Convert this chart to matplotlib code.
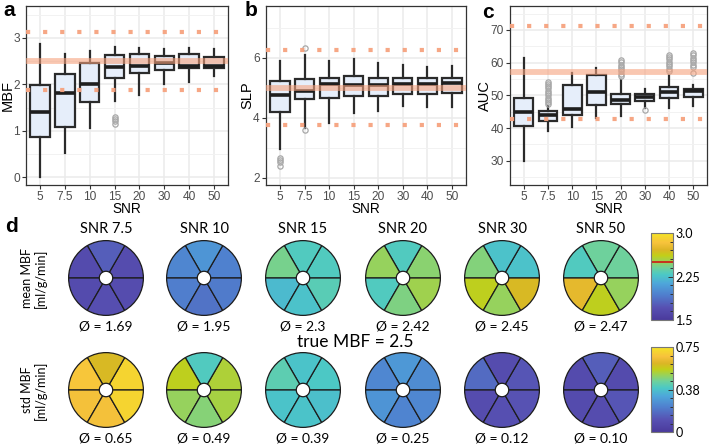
import matplotlib
matplotlib.use('Agg')
import matplotlib.pyplot as plt
import numpy as np
from matplotlib.colors import LinearSegmentedColormap, Normalize
from matplotlib.cm import ScalarMappable
from matplotlib.ticker import MultipleLocator, FixedLocator

plt.rcParams['font.family'] = ['Liberation Sans', 'DejaVu Sans']

# ---------------- data ----------------
snr_labels = ['5', '7.5', '10', '15', '20', '30', '40', '50']

# panel a: MBF
mbf_whislo = [0.00, 0.53, 1.05, 1.64, 1.77, 2.00, 2.05, 2.17]
mbf_q1 = [0.87, 1.07, 1.61, 2.13, 2.25, 2.31, 2.35, 2.35]
mbf_med = [1.41, 1.82, 2.00, 2.38, 2.40, 2.47, 2.40, 2.40]
mbf_q3 = [1.99, 2.22, 2.46, 2.63, 2.66, 2.62, 2.65, 2.60]
mbf_whishi = [2.87, 2.65, 2.73, 2.81, 2.79, 2.76, 2.79, 2.76]
mbf_fliers = [[], [], [], [1.30, 1.25, 1.20, 1.15], [], [], [], []]
mbf_true = 2.5
mbf_bounds = [1.875, 3.125]

# panel b: SLP
slp_whislo = [2.95, 3.66, 3.81, 4.15, 4.22, 4.39, 4.37, 4.37]
slp_q1 = [4.20, 4.62, 4.65, 4.71, 4.71, 4.79, 4.78, 4.81]
slp_med = [4.75, 4.90, 5.12, 5.10, 5.10, 5.12, 5.12, 5.15]
slp_q3 = [5.21, 5.29, 5.33, 5.38, 5.33, 5.33, 5.33, 5.33]
slp_whishi = [5.88, 6.10, 5.88, 5.97, 5.83, 5.76, 5.69, 5.71]
slp_fliers = [[2.65, 2.58, 2.52, 2.39], [6.33, 3.58], [], [], [], [], [], []]
slp_true = 5.0
slp_bounds = [3.75, 6.25]

# panel c: AUC
auc_whislo = [30.0, 39.2, 40.2, 43.2, 43.8, 46.1, 46.1, 46.8]
auc_q1 = [40.7, 42.3, 44.1, 46.9, 47.3, 48.4, 49.2, 49.5]
auc_med = [44.9, 44.1, 45.9, 51.0, 48.7, 49.5, 51.0, 51.2]
auc_q3 = [49.2, 45.3, 53.3, 56.1, 50.5, 50.4, 52.5, 52.0]
auc_whishi = [61.5, 46.6, 56.9, 58.5, 54.6, 52.0, 56.2, 53.3]
auc_fliers = [[],
              [54.2, 53.5, 52.8, 52.1, 51.4, 50.7, 50.0, 49.3, 48.6, 47.9, 47.2],
              [],
              [],
              [60.8, 60.1, 59.4, 58.7, 58.0, 57.3, 56.6, 55.9],
              [45.4],
              [62.4, 61.7, 61.0, 60.3, 59.6, 58.9, 58.2, 57.5],
              [62.9, 62.2, 61.5, 60.8, 60.1, 59.4, 58.7, 56.7]]
auc_true = 57.0
auc_bounds = [42.75, 71.25]

# panel d: bullseye segments, order: upper-right, top, upper-left, lower-left, bottom, lower-right
d_snr = ['7.5', '10', '15', '20', '30', '50']
mean_seg = [
    [1.67, 1.78, 1.66, 1.66, 1.69, 1.68],
    [1.95, 2.05, 1.97, 1.93, 1.88, 1.92],
    [2.30, 2.30, 2.42, 2.22, 2.25, 2.33],
    [2.47, 2.30, 2.50, 2.30, 2.44, 2.52],
    [2.25, 2.25, 2.45, 2.60, 2.50, 2.70],
    [2.40, 2.40, 2.30, 2.75, 2.60, 2.50],
]
std_seg = [
    [0.71, 0.60, 0.675, 0.66, 0.66, 0.71],
    [0.53, 0.40, 0.55, 0.50, 0.48, 0.52],
    [0.39, 0.38, 0.42, 0.38, 0.38, 0.37],
    [0.25, 0.28, 0.24, 0.27, 0.23, 0.24],
    [0.12, 0.09, 0.17, 0.09, 0.10, 0.11],
    [0.08, 0.14, 0.08, 0.08, 0.09, 0.12],
]
mean_avg = ['1.69', '1.95', '2.3', '2.42', '2.45', '2.47']
std_avg = ['0.65', '0.49', '0.39', '0.25', '0.12', '0.10']
mean_range = (1.5, 3.0)
std_range = (0.0, 0.75)
mean_cticks = [1.5, 2.25, 3.0]
mean_ctlabels = ['1.5', '2.25', '3.0']
std_cticks = [0.0, 0.375, 0.75]
std_ctlabels = ['0', '0.38', '0.75']

# ---------------- figure ----------------
W, H = 709, 444
fig = plt.figure(figsize=(W / 100, H / 100), dpi=100)


def px_axes(l, t, r, b):
    return fig.add_axes([l / W, 1 - b / H, (r - l) / W, (b - t) / H])


BOX_FILL = '#e6eefa'
DARK = '#2b2b2b'
SALMON = '#f6a27e'


def box_panel(box, lo, q1, med, q3, hi, fl, true, bounds, ylim, yticks, minor, ylabel, ylab_x):
    ax = px_axes(*box)
    stats = [dict(whislo=a, q1=b, med=c, q3=d, whishi=e, fliers=f)
             for a, b, c, d, e, f in zip(lo, q1, med, q3, hi, fl)]
    ax.bxp(stats, positions=np.arange(1, 9), widths=0.78, patch_artist=True,
           showcaps=False,
           boxprops=dict(facecolor=BOX_FILL, edgecolor=DARK, linewidth=1.6),
           medianprops=dict(color='#1e1e1e', linewidth=2.6, solid_capstyle='butt'),
           whiskerprops=dict(color=DARK, linewidth=1.6),
           flierprops=dict(marker='o', markerfacecolor='none', markeredgecolor='#a8a8a8',
                           markersize=3.8, markeredgewidth=0.9))
    ax.axhline(true, color=SALMON, lw=4.2, alpha=0.6, zorder=6)
    for b in bounds:
        ax.axhline(b, color=SALMON, lw=3.0, ls=(0, (1, 3.1)), zorder=6, alpha=0.95)
    ax.set_xlim(0.43, 8.57)
    ax.set_ylim(*ylim)
    ax.set_xticks(np.arange(1, 9))
    ax.set_xticklabels(snr_labels)
    ax.set_yticks(yticks)
    ax.yaxis.set_minor_locator(FixedLocator(minor))
    ax.grid(True, which='major', color='#ebebeb', lw=1.1, zorder=0)
    ax.grid(True, which='minor', axis='y', color='#f2f2f2', lw=0.7, zorder=0)
    ax.set_axisbelow(True)
    ax.tick_params(which='major', length=3, color='#333333', labelsize=8.6,
                   labelcolor='#4d4d4d', pad=1.5, width=0.8)
    ax.tick_params(axis='x', which='major', pad=1.0)
    ax.tick_params(which='minor', length=0)
    for s in ax.spines.values():
        s.set_color('#333333')
        s.set_linewidth(0.9)
    ax.set_xlabel('SNR', fontsize=9.8, va='center')
    ax.xaxis.set_label_coords(0.5, -0.132)
    ax.set_ylabel(ylabel, fontsize=10.5, va='center')
    ax.yaxis.set_label_coords(ylab_x, 0.5)
    return ax


box_panel((26, 6, 228, 185), mbf_whislo, mbf_q1, mbf_med, mbf_q3, mbf_whishi, mbf_fliers,
          mbf_true, mbf_bounds, (-0.17, 3.69), [0, 1, 2, 3], [0.5, 1.5, 2.5, 3.5], 'MBF',
          -0.092)
box_panel((266, 6, 466, 185), slp_whislo, slp_q1, slp_med, slp_q3, slp_whishi, slp_fliers,
          slp_true, slp_bounds, (1.75, 7.73), [2, 4, 6], [3, 5, 7], 'SLP', -0.095)
box_panel((510, 6, 707, 185), auc_whislo, auc_q1, auc_med, auc_q3, auc_whishi, auc_fliers,
          auc_true, auc_bounds, (22.6, 77.3), [30, 40, 50, 60, 70],
          [25, 35, 45, 55, 65, 75], 'AUC', -0.127)

for lab, x, y in [('a', 9, 11), ('b', 251, 10), ('c', 488, 12), ('d', 11, 226)]:
    fig.text(x / W, 1 - y / H, lab, fontsize=15, fontweight='bold', ha='center', va='center')

# ---------------- panel d ----------------
anchors = [(0.00, '#4a3a9c'), (0.14, '#5750b2'), (0.30, '#4f82cf'), (0.42, '#4ea6da'),
           (0.52, '#4bc8c6'), (0.60, '#6ed19c'), (0.67, '#98d25a'), (0.74, '#c2cf18'),
           (0.81, '#dcb526'), (0.89, '#f7c23c'), (1.00, '#f4e426')]
cmap = LinearSegmentedColormap.from_list('parula_like', anchors)

TXT = ['Lato', 'DejaVu Sans']
centers_x = [106, 204, 303, 403, 502, 601]
rows = [(278, 326, mean_seg, mean_avg, Normalize(*mean_range)),
        (390, 438, std_seg, std_avg, Normalize(*std_range))]
RAD = 40
for cy, ty, segs, avgs, norm in rows:
    for cx, vals, avg in zip(centers_x, segs, avgs):
        ax = px_axes(cx - RAD, cy - RAD, cx + RAD, cy + RAD)
        ax.pie([1] * 6, colors=cmap(norm(np.array(vals))), startangle=0, counterclock=True,
               radius=1.0, wedgeprops=dict(width=0.82, edgecolor='#1c1c1c', linewidth=0.9))
        ax.set_xlim(-1.07, 1.07)
        ax.set_ylim(-1.07, 1.07)
        ax.set_aspect('equal')
        ax.axis('off')
        fig.text(cx / W, 1 - ty / H, f'Ø = {avg}', family=TXT, fontsize=10,
                 ha='center', va='center')

for cx, s in zip(centers_x, d_snr):
    fig.text(cx / W, 1 - 229 / H, f'SNR {s}', family=TXT, fontsize=10.5,
             ha='center', va='center')

fig.text(355 / W, 1 - 342 / H, 'true MBF = 2.5', family=TXT, fontsize=12.5,
         ha='center', va='center')
fig.text(34 / W, 1 - 278 / H, 'mean MBF\n[ml/g/min]', family=TXT, fontsize=9,
         rotation=90, ha='center', va='center', multialignment='center', linespacing=1.15)
fig.text(34 / W, 1 - 390 / H, 'std MBF\n[ml/g/min]', family=TXT, fontsize=9,
         rotation=90, ha='center', va='center', multialignment='center', linespacing=1.15)

# colorbars
for (t, b), rng, ticks, tlabels, minor, mark in [
        ((233, 320), mean_range, mean_cticks, mean_ctlabels, 0.15, mbf_true),
        ((347, 432), std_range, std_cticks, std_ctlabels, 0.075, None)]:
    cax = px_axes(651, t, 673, b)
    cb = fig.colorbar(ScalarMappable(norm=Normalize(*rng), cmap=cmap), cax=cax, ticks=ticks)
    cb.set_ticklabels(tlabels)
    cb.outline.set_edgecolor('#777777')
    cb.outline.set_linewidth(0.8)
    cax.yaxis.set_minor_locator(MultipleLocator(minor))
    cax.tick_params(which='both', direction='in', color='#333333', width=0.7)
    cax.tick_params(which='major', length=3.5, pad=2)
    cax.tick_params(which='minor', length=2.5)
    for lbl in cax.get_yticklabels():
        lbl.set_family(TXT)
        lbl.set_fontsize(9)
    if mark is not None:
        cax.axhline(mark, color='#c8321e', lw=1.4)

fig.savefig('out.png', dpi=100)
